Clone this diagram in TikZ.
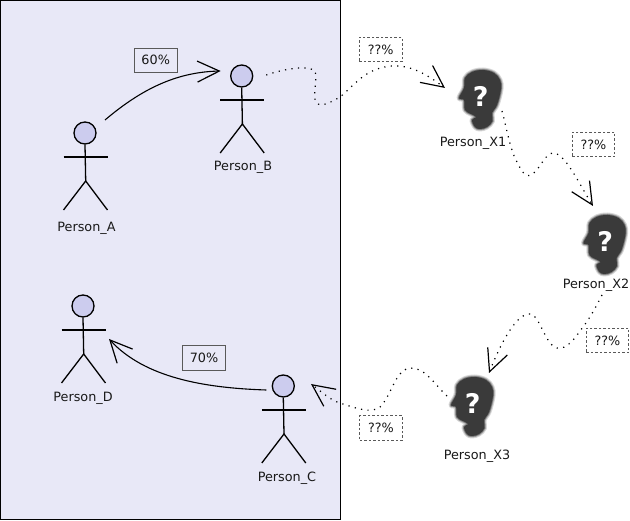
\documentclass[tikz,border=0pt]{standalone}
\usepackage{fontspec}
\setmainfont{DejaVu Sans}
\usetikzlibrary{arrows.meta}
\definecolor{zonefill}{HTML}{E8E8F7}
\definecolor{headfill}{HTML}{CCCCEE}
\definecolor{shadow}{HTML}{3A3A3A}
\newcommand\headOutline{plot[smooth cycle,tension=0.6] coordinates{(3,-29) (14,-26) (20,-19) (21,-10) (17,6) (12,14) (12.5,22) (7,28) (0,30) (-5,28) (-8,21) (-4,18) (-9,15) (-15,11) (-16,1) (-21,-1) (-16,-11) (-15,-21) (-8,-27)}}

\begin{document}
\begin{tikzpicture}[x=1pt,y=-1pt]
\tikzset{
    pics/actor/.style={code={%
        \node[circle,draw,line width=1.3pt,fill=headfill,minimum size=22pt,inner sep=0pt] (head) at (0,0) {};
        \draw[line width=1.3pt] (head.south) -- (0.7,48);
        \draw[line width=1.3pt] (-21.5,24) -- (22.5,24);
        \draw[line width=1.3pt] (-21.5,77) -- (0.7,48) -- (22.5,77);
    }},
    pics/unknown/.style={code={%
        \foreach \w/\o in {5/.2,3/.3,1.5/.5}{
            \draw[shadow,line width=\w pt,opacity=\o,line join=round] \headOutline;
        }
        \fill[shadow] \headOutline;
        \node[text=white,inner sep=0pt,font=\fontsize{27}{27}\selectfont\bfseries] (mark) at (0.7,-2.5) {?};
    }},
    personlabel/.style={font=\fontsize{12.8}{14}\selectfont,inner sep=0pt,text=black!90},
    ratebox/.style={draw=black!65,line width=0.8pt,minimum width=42.5pt,minimum height=24.5pt,inner sep=0pt,
        font=\fontsize{12.8}{14}\selectfont,text=black!90},
    unknownbox/.style={ratebox,dashed,dash pattern=on 2.5pt off 2pt},
    known/.style={line width=1.1pt,-{Straight Barb[length=22pt,width=21pt,line width=1.2pt]}},
    guess/.style={line width=1.2pt,dash pattern=on 1.2pt off 5.3pt,-{Straight Barb[length=22pt,width=21pt,line width=1.2pt]}},
}
\useasboundingbox (0,0) rectangle (630,521);

% Zone around the known people
\draw[fill=zonefill,line width=1.2pt] (0.3,0.5) rectangle (340.7,519.5);

% People
\pic (personA) at (85,133) {actor};
\pic (personB) at (241.7,76) {actor};
\pic (personC) at (283.3,386) {actor};
\pic (personD) at (83,306) {actor};
\node[personlabel] (labelA) at (86.5,228) {Person\_A};
\node[personlabel] (labelB) at (243,167) {Person\_B};
\node[personlabel] (labelC) at (287,478) {Person\_C};
\node[personlabel] (labelD) at (83,398) {Person\_D};

% Unknown people
\pic (unknownOne) at (480,99) {unknown};
\pic (unknownTwo) at (604.5,244) {unknown};
\pic (unknownThree) at (472,406) {unknown};
\node[personlabel] (labelOne) at (473,143) {Person\_X1};
\node[personlabel] (labelTwo) at (596,285) {Person\_X2};
\node[personlabel] (labelThree) at (477,456) {Person\_X3};

% Rates
\node[ratebox] (rateAB) at (155.7,60.3) {60\%};
\node[ratebox] (rateCD) at (204,358) {70\%};
\node[unknownbox] (rateBX) at (380.7,49.5) {??\%};
\node[unknownbox] (rateXX) at (593.5,144.5) {??\%};
\node[unknownbox] (rateXY) at (607.5,340.5) {??\%};
\node[unknownbox] (rateXC) at (381,428) {??\%};

% Known links
\draw[known] ([shift={(20,-13)}]personAhead.center)
    .. controls (145,86) and (180,72) .. ([shift={(-21,-5)}]personBhead.center);
\draw[known] ([shift={(-17,4)}]personChead.center)
    .. controls (205,388) and (145,378) .. ([shift={(26,33)}]personDhead.center);

% Guessed links
\draw[guess] ([shift={(24.5,-1)}]personBhead.center)
    .. controls (290,67) and (310,66) .. (315,71)
    .. controls (318,80) and (312,95) .. (316,102)
    .. controls (319,108) and (330,103) .. (340,97)
    .. controls (355,85) and (365,68) .. (392,66)
    .. controls (410,65) and (425,73) .. ([shift={(-35.7,-8.5)}]unknownOnemark.center);
\draw[guess] ([shift={(21.3,14.5)}]unknownOnemark.center)
    .. controls (506,125) and (510,150) .. (517,162)
    .. controls (521,170) and (525,178) .. (531,175)
    .. controls (540,170) and (545,153) .. (553,153)
    .. controls (565,153) and (578,182) .. ([shift={(-12.2,-35.5)}]unknownTwomark.center);
\draw[guess] ([shift={(-3.2,53.5)}]unknownTwomark.center)
    .. controls (597,305) and (590,318) .. (583,327)
    .. controls (575,338) and (567,350) .. (557,348)
    .. controls (545,345) and (540,315) .. (530,314)
    .. controls (515,313) and (498,350) .. ([shift={(16.3,-30.5)}]unknownThreemark.center);
\draw[guess] ([shift={(-25.7,-7.5)}]unknownThreemark.center)
    .. controls (435,385) and (425,367) .. (410,368)
    .. controls (395,370) and (392,395) .. (380,407)
    .. controls (372,414) and (355,408) .. (340,403)
    .. controls (330,400) and (322,392) .. ([shift={(27.7,-2)}]personChead.center);
\end{tikzpicture}
\end{document}
